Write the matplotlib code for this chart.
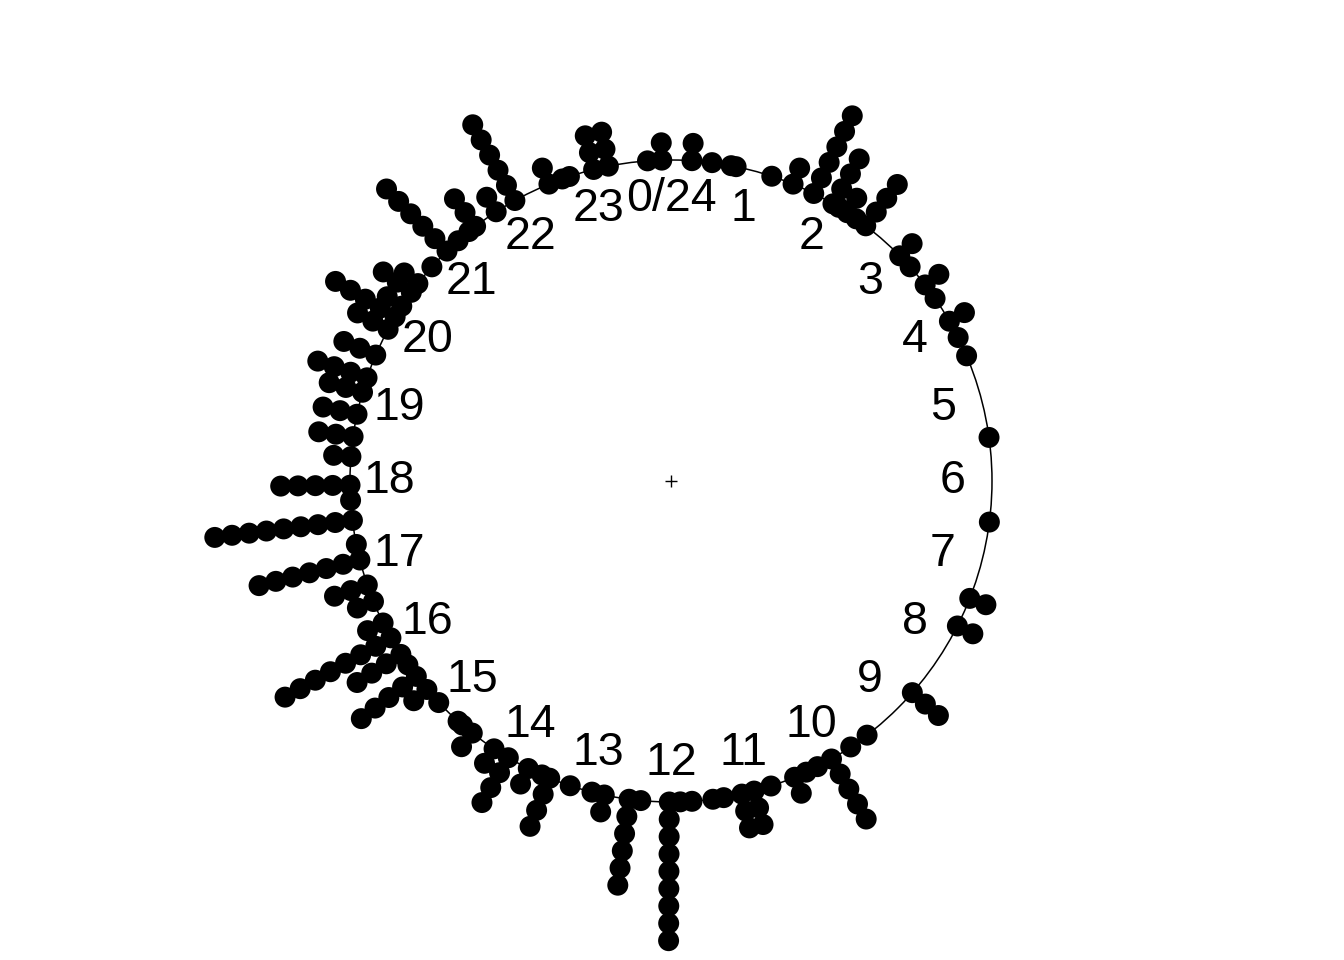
import numpy as np
import matplotlib
matplotlib.use("Agg")
import matplotlib.pyplot as plt
from matplotlib.patches import Circle

# stacked times of day (hour on a 24 h clock, number of stacked points)
hours = [0.25, 0.49, 0.72, 0.78, 1.22, 1.49, 1.76, 2.02, 2.1, 2.22, 2.35, 2.49,
         3.03, 3.21, 3.49, 3.69, 4.01, 4.23, 4.47, 5.48, 6.49, 7.43, 7.79, 8.75,
         9.49, 9.73, 10.0, 10.19, 10.34, 10.49, 10.79, 11.0, 11.15, 11.37, 11.5,
         11.75, 11.89, 12.02, 12.36, 12.5, 12.8, 12.95, 13.22, 13.48, 13.58,
         13.76, 14.03, 14.23, 14.55, 14.7, 14.77, 15.09, 15.3, 15.5, 15.67, 15.82,
         16.05, 16.25, 16.53, 16.74, 17.05, 17.24, 17.53, 17.77, 17.95, 18.29,
         18.53, 18.8, 19.07, 19.25, 19.54, 19.88, 20.05, 20.2, 20.4, 20.53, 20.79,
         21.05, 21.23, 21.4, 21.5, 21.8, 22.06, 22.51, 22.68, 22.77, 23.07, 23.25,
         23.72, 23.89]
counts = [2, 1, 1, 1, 1, 2, 6, 4, 1, 2, 1, 4,
          2, 1, 2, 1, 2, 1, 1, 1, 1, 2, 2, 3,
          1, 1, 5, 1, 1, 2, 1, 3, 3, 1, 1,
          1, 1, 9, 1, 6, 2, 1, 1, 4, 1,
          2, 4, 2, 2, 1, 1, 1, 2, 5, 1, 4,
          8, 2, 2, 3, 7, 1, 9, 1, 5, 2,
          3, 3, 3, 4, 3, 3, 5, 2, 3, 2, 1,
          6, 1, 1, 3, 2, 6, 2, 1, 1, 3, 3,
          1, 2]
tick_hours = list(range(24))
tick_labels = ["0/24"] + [str(h) for h in range(1, 24)]

STEP = 0.054      # radial spacing of stacked points (circle radius = 1)
LABEL_R = 0.877

plt.rcParams["font.family"] = ["Liberation Sans", "DejaVu Sans"]

fig = plt.figure(figsize=(13.44, 9.6), dpi=100)
ax = fig.add_axes([0, 0, 1, 1])
ax.set_xlim(-671 / 321, (1344 - 671) / 321)
ax.set_ylim(-(960 - 481) / 321, 481 / 321)
ax.axis("off")

ax.add_patch(Circle((0, 0), 1.0, fill=False, color="black", lw=1.1, zorder=1))
ax.plot([0], [0], marker="+", color="black", ms=9, mew=1.0, zorder=2)

xs, ys = [], []
for h, n in zip(hours, counts):
    th = 2 * np.pi * h / 24
    for k in range(n):
        r = 1 + k * STEP
        xs.append(r * np.sin(th))
        ys.append(r * np.cos(th))
ax.scatter(xs, ys, s=228, color="black", edgecolors="none", zorder=3)

for h, lab in zip(tick_hours, tick_labels):
    th = 2 * np.pi * h / 24
    ax.text(LABEL_R * np.sin(th), LABEL_R * np.cos(th), lab,
            ha="center", va="center", fontsize=33.5)

fig.savefig("out.png", dpi=100)
